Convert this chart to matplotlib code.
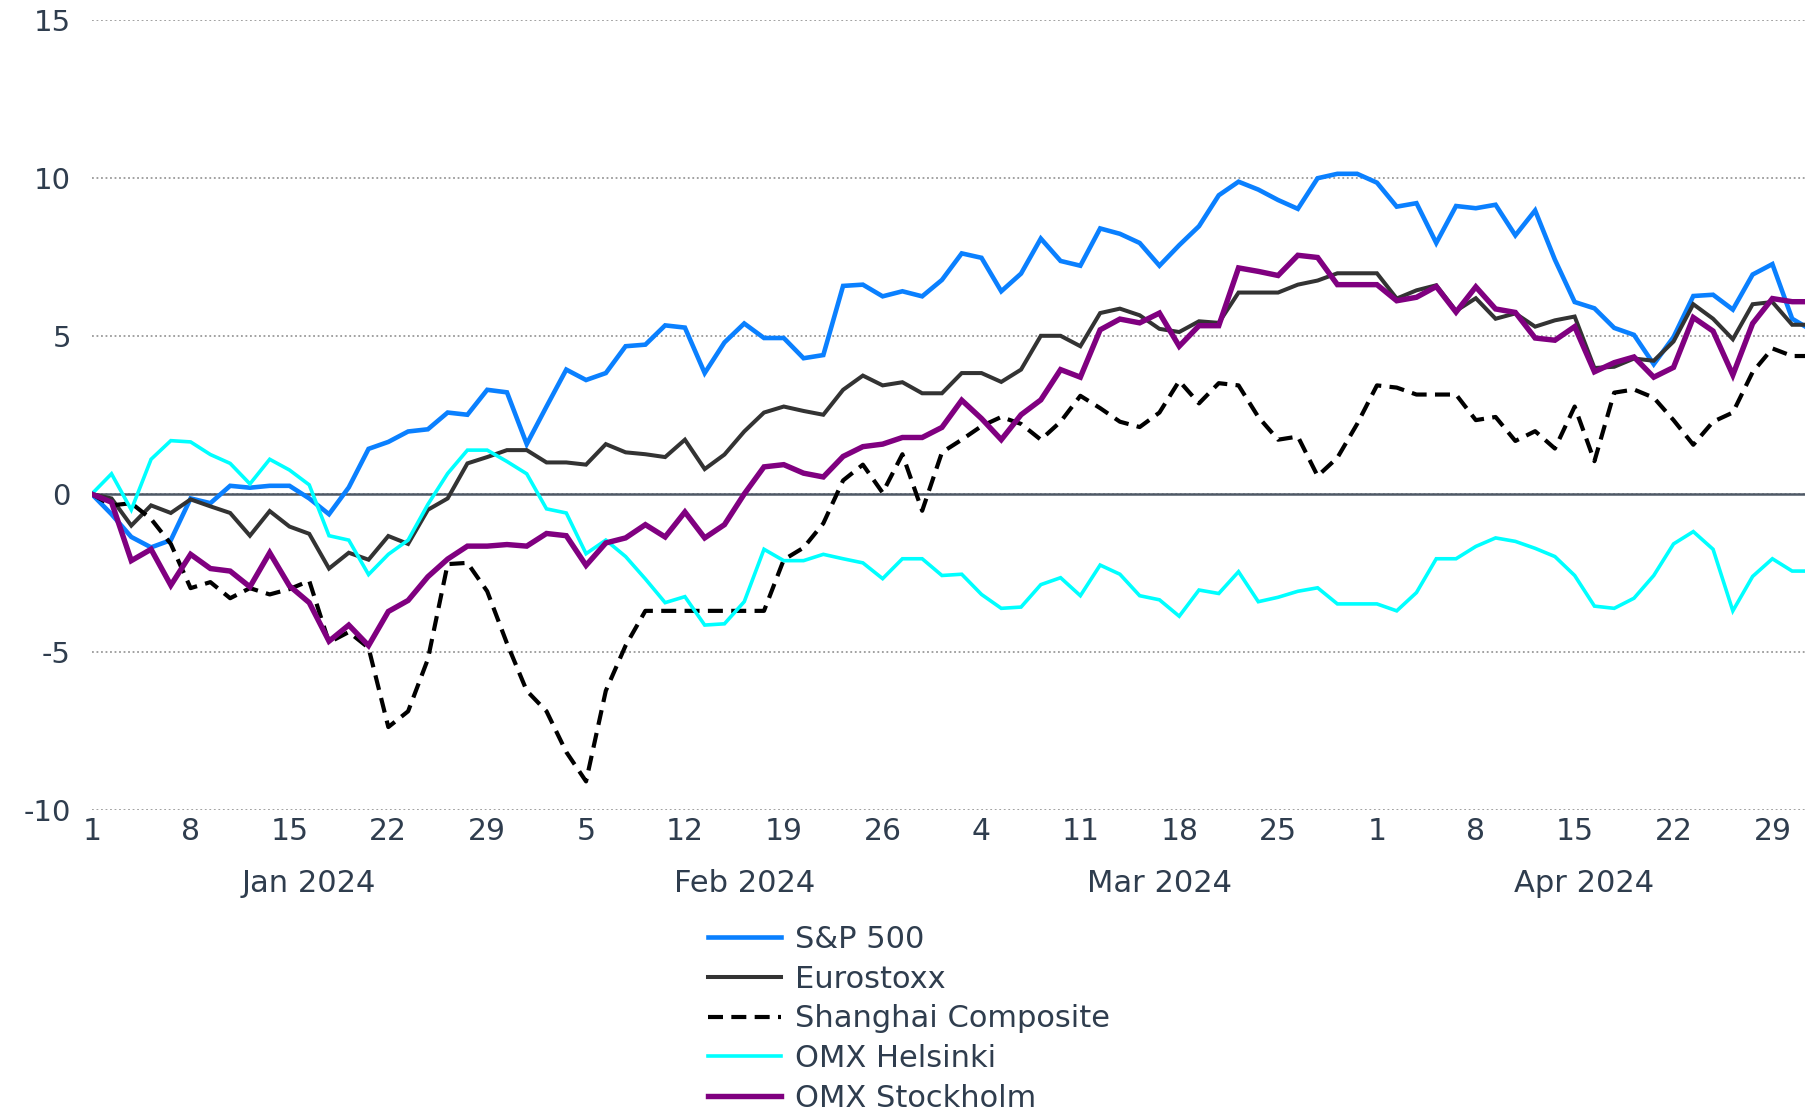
import numpy as np
import pandas as pd
import matplotlib
matplotlib.use("Agg")
import matplotlib.pyplot as plt

# trading days (weekdays) Jan 1 - May 1 2024, plotted evenly spaced
dates = pd.bdate_range("2024-01-01", "2024-05-01")

sp500 = [0, -0.64, -1.36, -1.69, -1.46, -0.14, -0.29, 0.26, 0.20, 0.26,
         0.26, -0.14, -0.64, 0.21, 1.43, 1.65, 1.98, 2.05, 2.58, 2.51,
         3.30, 3.22, 1.58, 2.77, 3.94, 3.61, 3.83, 4.68, 4.73, 5.34,
         5.27, 3.83, 4.80, 5.40, 4.94, 4.94, 4.30, 4.40, 6.59, 6.63,
         6.26, 6.42, 6.26, 6.78, 7.62, 7.48, 6.42, 6.98, 8.09, 7.38,
         7.23, 8.41, 8.24, 7.95, 7.23, 7.88, 8.48, 9.46, 9.89, 9.64,
         9.31, 9.03, 10.00, 10.14, 10.14, 9.86, 9.10, 9.21, 7.95, 9.12,
         9.05, 9.16, 8.19, 8.98, 7.42, 6.08, 5.88, 5.26, 5.04, 4.11,
         4.97, 6.27, 6.31, 5.84, 6.95, 7.28, 5.55, 5.18]

eurostoxx = [0, -0.14, -1.00, -0.36, -0.60, -0.17, -0.39, -0.60, -1.32, -0.54,
             -1.03, -1.26, -2.36, -1.86, -2.08, -1.33, -1.58, -0.50, -0.14, 0.97,
             1.17, 1.39, 1.39, 1.00, 1.00, 0.93, 1.58, 1.32, 1.26, 1.17,
             1.72, 0.79, 1.25, 1.98, 2.58, 2.77, 2.63, 2.51, 3.30, 3.75,
             3.44, 3.54, 3.19, 3.19, 3.83, 3.83, 3.55, 3.94, 5.01, 5.01,
             4.68, 5.73, 5.87, 5.66, 5.23, 5.13, 5.47, 5.42, 6.38, 6.38,
             6.38, 6.63, 6.76, 6.99, 6.99, 6.99, 6.19, 6.45, 6.61, 5.80,
             6.20, 5.55, 5.72, 5.30, 5.50, 5.62, 3.99, 4.03, 4.29, 4.22,
             4.83, 6.01, 5.55, 4.90, 6.01, 6.08, 5.36, 5.36]

shanghai = [0, -0.36, -0.29, -0.79, -1.58, -2.98, -2.79, -3.30, -2.98, -3.18,
            -3.01, -2.75, -4.70, -4.37, -4.87, -7.38, -6.88, -5.23, -2.22, -2.18,
            -3.08, -4.73, -6.23, -6.88, -8.17, -9.10, -6.23, -4.80, -3.70, -3.70,
            -3.70, -3.70, -3.70, -3.70, -3.70, -2.08, -1.70, -0.93, 0.43, 0.93,
            0.04, 1.26, -0.53, 1.32, 1.72, 2.15, 2.44, 2.22, 1.72, 2.29,
            3.11, 2.72, 2.29, 2.12, 2.58, 3.58, 2.87, 3.51, 3.44, 2.44,
            1.72, 1.82, 0.57, 1.15, 2.22, 3.44, 3.37, 3.15, 3.15, 3.15,
            2.34, 2.44, 1.68, 1.99, 1.44, 2.77, 1.04, 3.21, 3.31, 3.05,
            2.34, 1.56, 2.29, 2.58, 3.86, 4.61, 4.37, 4.37]

helsinki = [0, 0.64, -0.50, 1.10, 1.69, 1.65, 1.25, 0.97, 0.32, 1.10,
            0.76, 0.29, -1.32, -1.46, -2.55, -1.91, -1.46, -0.33, 0.65, 1.39,
            1.39, 1.03, 0.64, -0.47, -0.60, -1.89, -1.46, -1.98, -2.69, -3.44,
            -3.25, -4.15, -4.11, -3.41, -1.75, -2.11, -2.11, -1.91, -2.05, -2.18,
            -2.68, -2.05, -2.05, -2.58, -2.54, -3.18, -3.62, -3.58, -2.87, -2.65,
            -3.22, -2.25, -2.54, -3.22, -3.35, -3.87, -3.04, -3.15, -2.46, -3.41,
            -3.27, -3.08, -2.97, -3.48, -3.48, -3.48, -3.70, -3.12, -2.05, -2.05,
            -1.66, -1.39, -1.50, -1.72, -1.98, -2.58, -3.55, -3.62, -3.30, -2.58,
            -1.58, -1.19, -1.75, -3.70, -2.61, -2.05, -2.44, -2.44]

stockholm = [0, -0.26, -2.11, -1.75, -2.89, -1.91, -2.36, -2.44, -2.94, -1.86,
             -2.91, -3.44, -4.66, -4.15, -4.80, -3.72, -3.37, -2.62, -2.06, -1.65,
             -1.65, -1.60, -1.65, -1.25, -1.32, -2.26, -1.55, -1.39, -0.97, -1.36,
             -0.57, -1.39, -0.97, 0.00, 0.86, 0.93, 0.66, 0.54, 1.19, 1.50,
             1.58, 1.79, 1.79, 2.11, 2.97, 2.39, 1.72, 2.51, 2.98, 3.94,
             3.70, 5.20, 5.54, 5.42, 5.73, 4.68, 5.33, 5.33, 7.16, 7.05,
             6.92, 7.56, 7.49, 6.63, 6.63, 6.63, 6.12, 6.23, 6.57, 5.76,
             6.56, 5.86, 5.75, 4.94, 4.87, 5.30, 3.87, 4.16, 4.34, 3.70,
             4.01, 5.59, 5.16, 3.77, 5.40, 6.19, 6.09, 6.09]

series_names = ["S&P 500", "Eurostoxx", "Shanghai Composite", "OMX Helsinki", "OMX Stockholm"]
y_ticks = [-10, -5, 0, 5, 10, 15]
y_labels = ["-10", "-5", "0", "5", "10", "15"]

text_col = "#2f3d4e"

x = np.arange(len(dates))

fig = plt.figure(figsize=(18.06, 11.11), dpi=100)
ax = fig.add_axes([0.0508, 0.2711, 0.9492, 0.7106])

styles = [
    dict(color="#0a80ff", lw=3.3, ls="-"),
    dict(color="#333333", lw=2.9, ls="-"),
    dict(color="#000000", lw=3.0, ls=(0, (3.6, 2.0))),
    dict(color="#00ffff", lw=2.6, ls="-"),
    dict(color="#800080", lw=3.9, ls="-"),
]
for vals, name, st in zip([sp500, eurostoxx, shanghai, helsinki, stockholm], series_names, styles):
    ax.plot(x, vals, color=st["color"], linewidth=st["lw"], linestyle=st["ls"],
            label=name, zorder=3, solid_joinstyle="miter")

ax.set_xlim(0, 86.7)
ax.set_ylim(-10, 15)
for s in ax.spines.values():
    s.set_visible(False)

ax.set_yticks(y_ticks)
ax.set_yticklabels(y_labels)
ax.yaxis.grid(True, linestyle=(0, (1, 1.5)), color="#9a9a9a", linewidth=1.3)
ax.axhline(0, color="#4f5966", linewidth=1.8, zorder=2)
ax.tick_params(axis="y", length=0, pad=15, labelsize=21, labelcolor=text_col)

# day ticks on Mondays
mondays = [i for i, d in enumerate(dates) if d.weekday() == 0]
ax.set_xticks(mondays)
ax.set_xticklabels([str(dates[i].day) for i in mondays])
ax.tick_params(axis="x", length=0, pad=5, labelsize=21.5, labelcolor=text_col)

# month labels centred under each month
months = pd.Series(x, index=dates).groupby(dates.to_period("M")).mean()
for per, centre in months.items():
    if per.month > 4:
        continue
    ax.text(centre, -0.0935, per.strftime("%b %Y"), transform=ax.get_xaxis_transform(),
            ha="center", va="center", fontsize=22, color=text_col)

leg = fig.legend(loc="upper left", bbox_to_anchor=(708 / 1806, 1 - 925 / 1111),
                 frameon=False, fontsize=22, handlelength=2.4, handletextpad=0.45,
                 labelspacing=0.35, borderpad=0, borderaxespad=0)
for t in leg.get_texts():
    t.set_color(text_col)

fig.savefig("out.png", dpi=100)
